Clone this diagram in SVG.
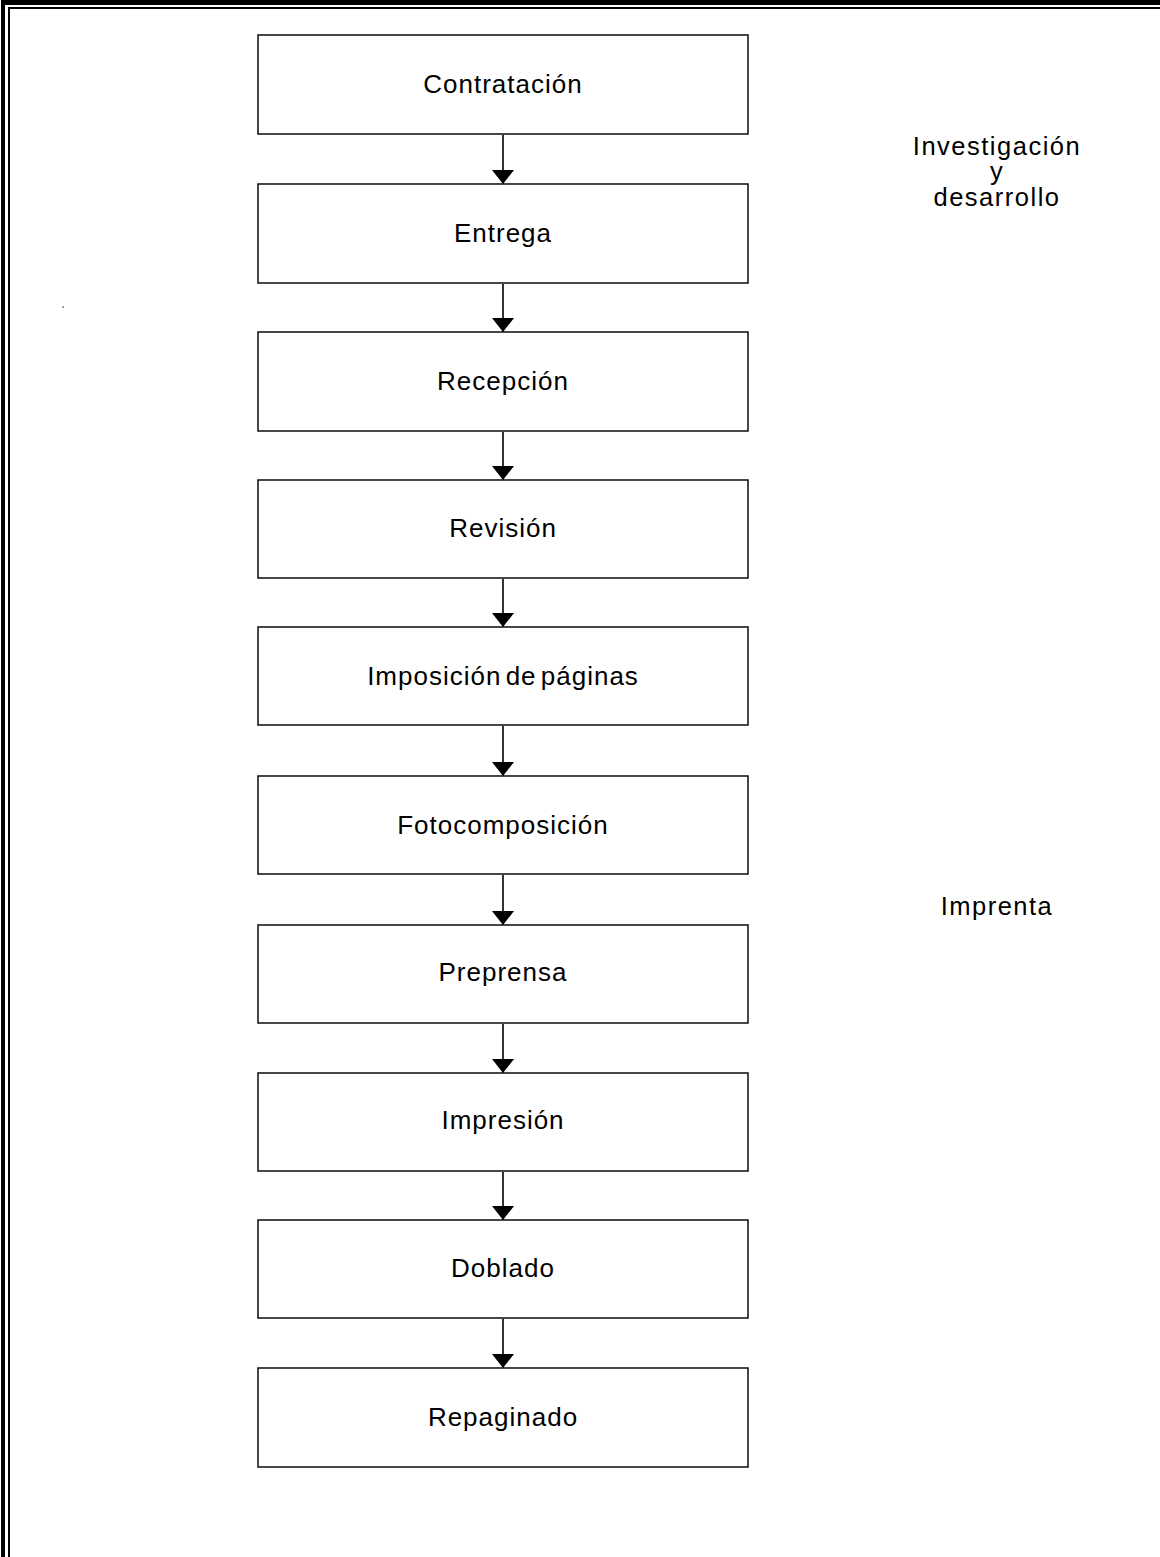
<svg xmlns="http://www.w3.org/2000/svg" width="1160" height="1557" viewBox="0 0 1160 1557">
  <style>
    .box { fill: #ffffff; stroke: #1a1a1a; stroke-width: 1.6; }
    .lbl { font-family: "Liberation Sans", Arial, sans-serif; font-size: 26px; fill: #000; text-anchor: middle; letter-spacing: 1px; }
    .side { font-family: "Liberation Sans", Arial, sans-serif; font-size: 25.5px; fill: #000; text-anchor: middle; letter-spacing: 1.5px; }
    .conn { stroke: #000; stroke-width: 1.6; fill: none; marker-end: url(#head); }
  </style>
  <defs>
    <marker id="head" markerUnits="userSpaceOnUse" markerWidth="16" markerHeight="24" viewBox="0 -12 16 24" refX="14" refY="0" orient="auto">
      <path d="M0,-11 L14,0 L0,11 Z" fill="#000"/>
    </marker>
  </defs>

  <rect width="1160" height="1557" fill="#ffffff"/>

  <!-- page frame: heavy outer rule with a thin inner rule -->
  <g id="frame" fill="#000">
    <rect x="1" y="0" width="1159" height="5"/>
    <rect x="1" y="0" width="4" height="1557"/>
    <rect x="8" y="7" width="1152" height="2"/>
    <rect x="8" y="7" width="2" height="1550"/>
  </g>

  <rect id="dot" x="62.5" y="306.5" width="1.2" height="1.2" fill="#000"/>

  <g id="connectors">
    <line class="conn" x1="503" y1="135" x2="503" y2="184"/>
    <line class="conn" x1="503" y1="284" x2="503" y2="332"/>
    <line class="conn" x1="503" y1="432" x2="503" y2="480"/>
    <line class="conn" x1="503" y1="579" x2="503" y2="627"/>
    <line class="conn" x1="503" y1="726" x2="503" y2="776"/>
    <line class="conn" x1="503" y1="875" x2="503" y2="925"/>
    <line class="conn" x1="503" y1="1024" x2="503" y2="1073"/>
    <line class="conn" x1="503" y1="1172" x2="503" y2="1220"/>
    <line class="conn" x1="503" y1="1319" x2="503" y2="1368"/>
  </g>

  <g id="n1"><rect class="box" x="258" y="35" width="490" height="99"/><text class="lbl" x="503" y="93">Contratación</text></g>
  <g id="n2"><rect class="box" x="258" y="184" width="490" height="99"/><text class="lbl" x="503" y="242">Entrega</text></g>
  <g id="n3"><rect class="box" x="258" y="332" width="490" height="99"/><text class="lbl" x="503" y="390">Recepción</text></g>
  <g id="n4"><rect class="box" x="258" y="480" width="490" height="98"/><text class="lbl" x="503" y="537">Revisión</text></g>
  <g id="n5"><rect class="box" x="258" y="627" width="490" height="98"/><text class="lbl" x="503" y="685" word-spacing="-4">Imposición de páginas</text></g>
  <g id="n6"><rect class="box" x="258" y="776" width="490" height="98"/><text class="lbl" x="503" y="834">Fotocomposición</text></g>
  <g id="n7"><rect class="box" x="258" y="925" width="490" height="98"/><text class="lbl" x="503" y="981">Preprensa</text></g>
  <g id="n8"><rect class="box" x="258" y="1073" width="490" height="98"/><text class="lbl" x="503" y="1129">Impresión</text></g>
  <g id="n9"><rect class="box" x="258" y="1220" width="490" height="98"/><text class="lbl" x="503" y="1277">Doblado</text></g>
  <g id="n10"><rect class="box" x="258" y="1368" width="490" height="99"/><text class="lbl" x="503" y="1426">Repaginado</text></g>

  <g id="phase-rd">
    <text class="side" x="997" y="155">Investigación</text>
    <text class="side" x="997" y="180">y</text>
    <text class="side" x="997" y="206">desarrollo</text>
  </g>
  <g id="phase-print">
    <text class="side" x="997" y="915">Imprenta</text>
  </g>
</svg>
